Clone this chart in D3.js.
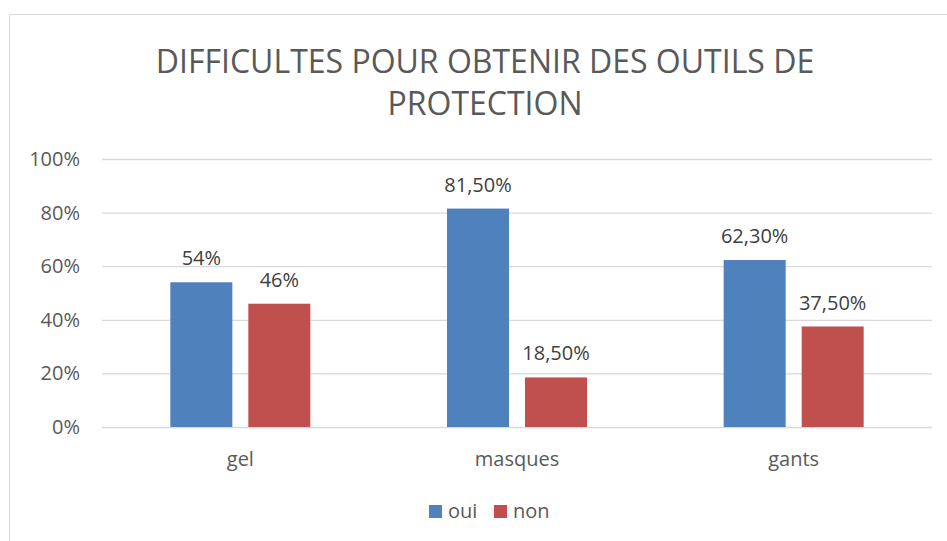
<!DOCTYPE html>
<head>
  <meta charset="utf-8">
  <script src="https://d3js.org/d3.v7.min.js"></script>
  <style>
    body { margin:0; background:#fff; }
    text { font-family: "Open Sans", sans-serif; }
  </style>
</head>
<body>
  <script>
    var width = 947,
        height = 541;

    // data
    var categories = ["gel", "masques", "gants"];
    var series = ["oui", "non"];
    var oui = [54, 81.5, 62.3];
    var non = [46, 18.5, 37.5];
    var ouiLabels = ["54%", "81,50%", "62,30%"];
    var nonLabels = ["46%", "18,50%", "37,50%"];
    var yTicks = [0, 20, 40, 60, 80, 100];
    var colors = ["#4f81bd", "#c0504d"];

    var svg = d3.select("body").append("svg")
      .attr("width", width)
      .attr("height", height);

    // chart frame (only top and left edges visible)
    svg.append("path")
      .attr("d", "M9.5,541 V14.5 H947")
      .attr("fill", "none")
      .attr("stroke", "#d9d9d9");

    svg.append("text")
      .attr("x", 485).attr("y", 73)
      .attr("text-anchor", "middle")
      .attr("fill", "#595959")
      .style("font-size", "32px")
      .text("DIFFICULTES POUR OBTENIR DES OUTILS DE");
    svg.append("text")
      .attr("x", 485).attr("y", 115)
      .attr("text-anchor", "middle")
      .attr("fill", "#595959")
      .style("font-size", "32px")
      .text("PROTECTION");

    var x = d3.scaleBand().domain(categories).range([102, 932]);
    var xs = d3.scaleBand().domain(series).range([0, x.bandwidth()]).paddingInner(0.205).paddingOuter(0.876);
    var y = d3.scaleLinear().domain([0, 100]).range([427, 159]);

    // gridlines
    svg.append("g").selectAll("line")
      .data(yTicks)
      .enter().append("line")
      .attr("x1", 102).attr("x2", 932)
      .attr("y1", function(d) { return y(d) + 0.5; })
      .attr("y2", function(d) { return y(d) + 0.5; })
      .attr("stroke", "#d9d9d9")
      .attr("stroke-width", 1.3);

    var yAxis = svg.append("g")
      .attr("transform", "translate(80,0)")
      .call(d3.axisLeft(y).tickValues(yTicks).tickSize(0).tickPadding(0).tickFormat(function(d) { return d + "%"; }));
    yAxis.select(".domain").remove();
    yAxis.selectAll("text")
      .attr("fill", "#595959")
      .style("font-size", "20px")
      .style("font-family", "'Open Sans', sans-serif");

    var xAxis = svg.append("g")
      .attr("transform", "translate(0,452)")
      .call(d3.axisBottom(x).tickSize(0).tickPadding(0));
    xAxis.select(".domain").remove();
    xAxis.selectAll("text")
      .attr("fill", "#595959")
      .style("font-size", "20px")
      .style("font-family", "'Open Sans', sans-serif");

    var rows = categories.map(function(c, i) {
      return [
        { cat: c, s: "oui", v: oui[i], label: ouiLabels[i] },
        { cat: c, s: "non", v: non[i], label: nonLabels[i] }
      ];
    });

    var groups = svg.append("g").selectAll("g")
      .data(rows)
      .enter().append("g")
      .attr("transform", function(d) { return "translate(" + x(d[0].cat) + ",0)"; });

    groups.selectAll("rect")
      .data(function(d) { return d; })
      .enter().append("rect")
      .attr("x", function(d) { return xs(d.s); })
      .attr("width", xs.bandwidth())
      .attr("y", function(d) { return y(d.v); })
      .attr("height", function(d) { return y(0) - y(d.v); })
      .attr("fill", function(d) { return colors[series.indexOf(d.s)]; });

    groups.selectAll(".lbl")
      .data(function(d) { return d; })
      .enter().append("text")
      .attr("class", "lbl")
      .attr("x", function(d) { return xs(d.s) + xs.bandwidth() / 2; })
      .attr("y", function(d) { return y(d.v) - 17; })
      .attr("text-anchor", "middle")
      .attr("fill", "#404040")
      .style("font-size", "20px")
      .text(function(d) { return d.label; });

    // legend
    var legend = svg.append("g").selectAll("g")
      .data(series)
      .enter().append("g")
      .attr("transform", function(d, i) { return "translate(" + (429 + i * 65) + ",505)"; });
    legend.append("rect")
      .attr("width", 13).attr("height", 13)
      .attr("fill", function(d, i) { return colors[i]; });
    legend.append("text")
      .attr("x", 19).attr("y", 13)
      .attr("fill", "#595959")
      .style("font-size", "20px")
      .text(function(d) { return d; });
  </script>
</body>
